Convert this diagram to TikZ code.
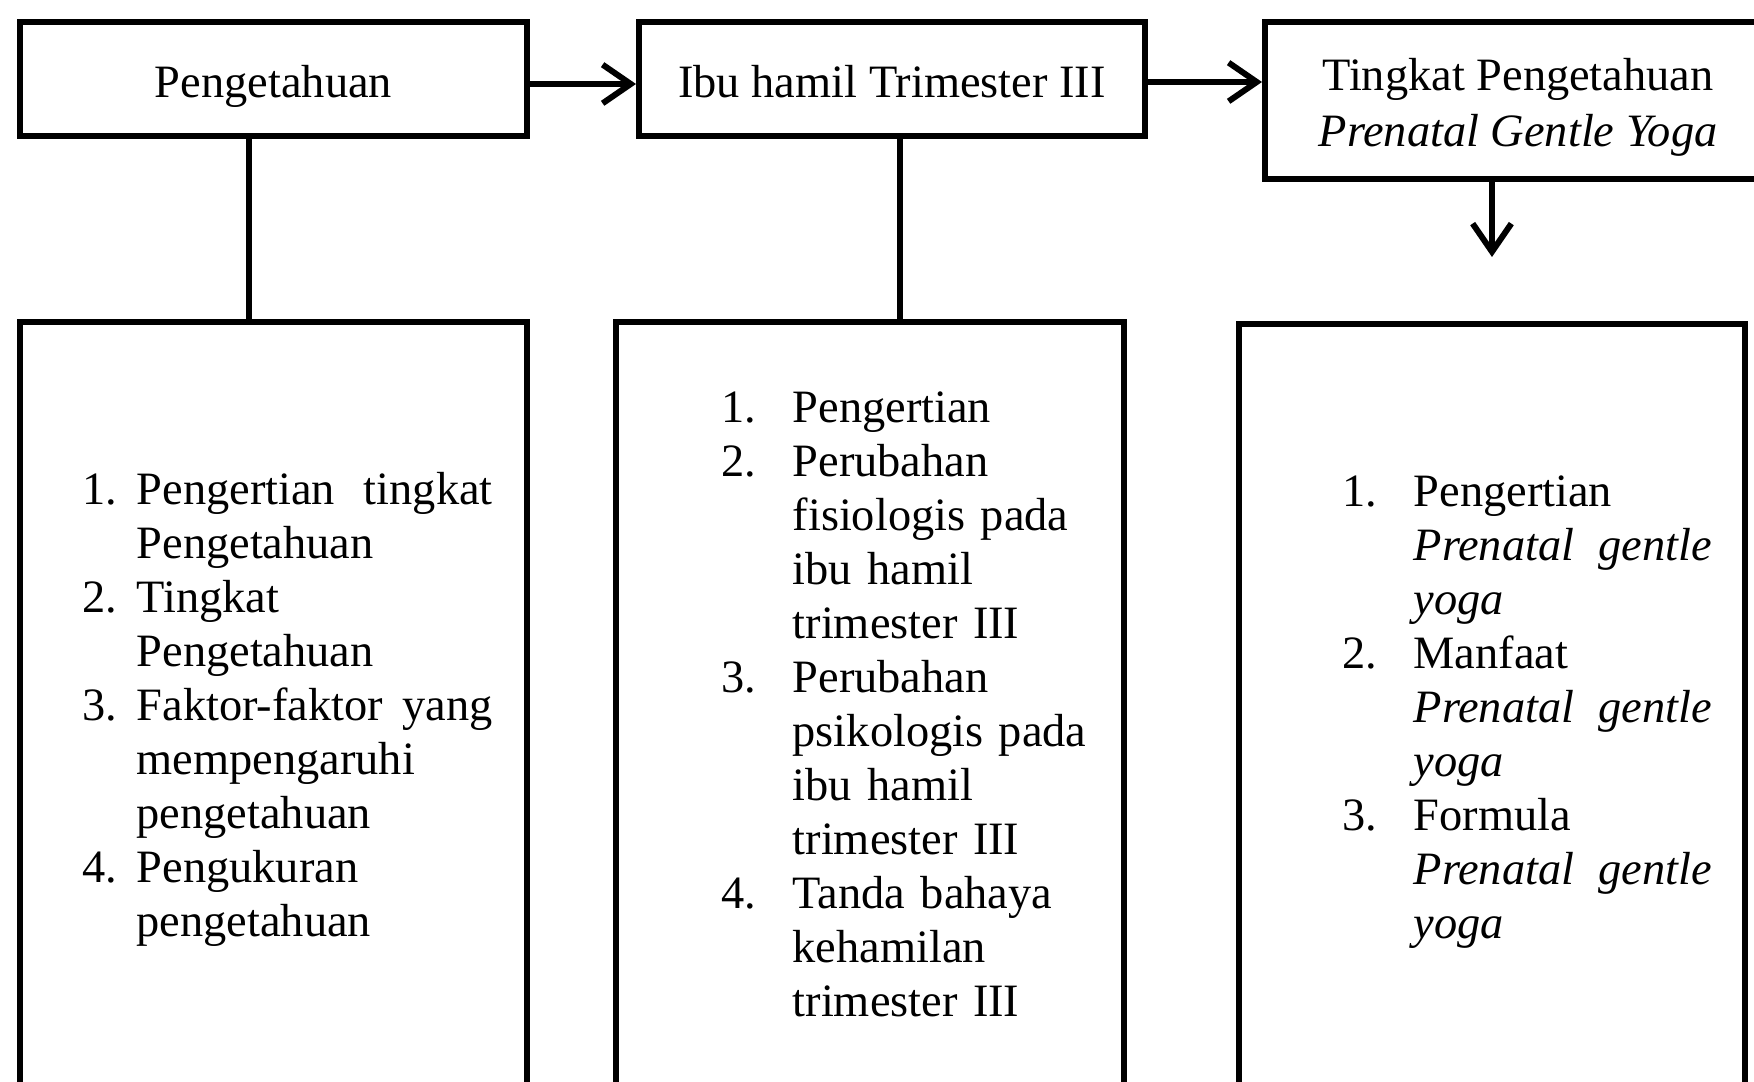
\documentclass[tikz,border=0pt]{standalone}
\usepackage{fontspec}
\setmainfont{Liberation Serif}
\usetikzlibrary{arrows.meta}

\newcommand{\itemno}[2][0.71cm]{\makebox[#1][l]{#2}}

\tikzset{
  topbox/.style={draw, line width=1.7pt, minimum height=1.14cm, minimum width=5.07cm, inner sep=0pt,
    align=center, text height=0.38cm, text depth=0pt},
  listbox/.style={draw, line width=1.7pt, anchor=north, minimum width=5.07cm, minimum height=8cm},
  itemlist/.style={anchor=base west, inner sep=0pt, align=left},
  link/.style={line width=1.7pt},
  flow/.style={line width=1.7pt, -{Straight Barb[length=8pt,width=11pt]}}
}

\begin{document}
\begin{tikzpicture}[font=\fontsize{13.2}{15.35}\selectfont]
    \clip (0,0) rectangle (17.54,10.82);

    % Top row
    \node[topbox] (pengetahuan) at (2.735,10.03) {Pengetahuan};
    \node[topbox, minimum width=5.06cm] (ibuhamil) at (8.92,10.03) {Ibu hamil Trimester III};
    \node[topbox, minimum height=1.57cm, minimum width=5.06cm, text height=0.94cm, text depth=0.02cm,
        font=\fontsize{13.2}{15.9}\selectfont] (tingkat) at (15.18,9.815)
        {Tingkat Pengetahuan\\ \textit{Prenatal Gentle Yoga}};

    % Bottom row
    \node[listbox] (teori1) at (2.735,7.63) {};
    \node[listbox, minimum width=5.08cm] (teori2) at (8.70,7.63) {};
    \node[listbox, minimum width=5.06cm] (teori3) at (14.92,7.61) {};

    \node[itemlist, text width=4.10cm] (isi1) at (0.82,5.774) {%
        \itemno[0.54cm]{1.}Pengertian\hfill tingkat\\
        \itemno[0.54cm]{}Pengetahuan\\
        \itemno[0.54cm]{2.}Tingkat\\
        \itemno[0.54cm]{}Pengetahuan\\
        \itemno[0.54cm]{3.}Faktor-faktor\hfill yang\\
        \itemno[0.54cm]{}mempengaruhi\\
        \itemno[0.54cm]{}pengetahuan\\
        \itemno[0.54cm]{4.}Pengukuran\\
        \itemno[0.54cm]{}pengetahuan};

    \node[itemlist, text width=4.00cm] (isi2) at (7.21,6.59) {%
        \itemno{1.}Pengertian\\
        \itemno{2.}Perubahan\\
        \itemno{}fisiologis pada\\
        \itemno{}ibu hamil\\
        \itemno{}trimester III\\
        \itemno{3.}Perubahan\\
        \itemno{}psikologis pada\\
        \itemno{}ibu hamil\\
        \itemno{}trimester III\\
        \itemno{4.}Tanda bahaya\\
        \itemno{}kehamilan\\
        \itemno{}trimester III};

    \node[itemlist, text width=3.69cm] (isi3) at (13.42,5.754) {%
        \itemno{1.}Pengertian\\
        \itemno{}\textit{Prenatal}\hfill\textit{gentle}\\
        \itemno{}\textit{yoga}\\
        \itemno{2.}Manfaat\\
        \itemno{}\textit{Prenatal}\hfill\textit{gentle}\\
        \itemno{}\textit{yoga}\\
        \itemno{3.}Formula\\
        \itemno{}\textit{Prenatal}\hfill\textit{gentle}\\
        \itemno{}\textit{yoga}};

    % Connectors
    \draw[link] ([xshift=-0.245cm]pengetahuan.south) -- ([xshift=-0.245cm]teori1.north);
    \draw[link] ([xshift=0.08cm]ibuhamil.south) -- ([xshift=0.30cm]teori2.north);

    % Arrows
    \draw[flow] ([yshift=-0.05cm]pengetahuan.east) -- ([yshift=-0.05cm]ibuhamil.west);
    \draw[flow] ([yshift=-0.03cm]ibuhamil.east) -- ([yshift=-0.03cm]ibuhamil.east -| tingkat.west);
    \coordinate (ujung) at ([yshift=0.64cm]teori3.north);
    \draw[flow] (tingkat.south -| ujung) -- (ujung);
\end{tikzpicture}
\end{document}
